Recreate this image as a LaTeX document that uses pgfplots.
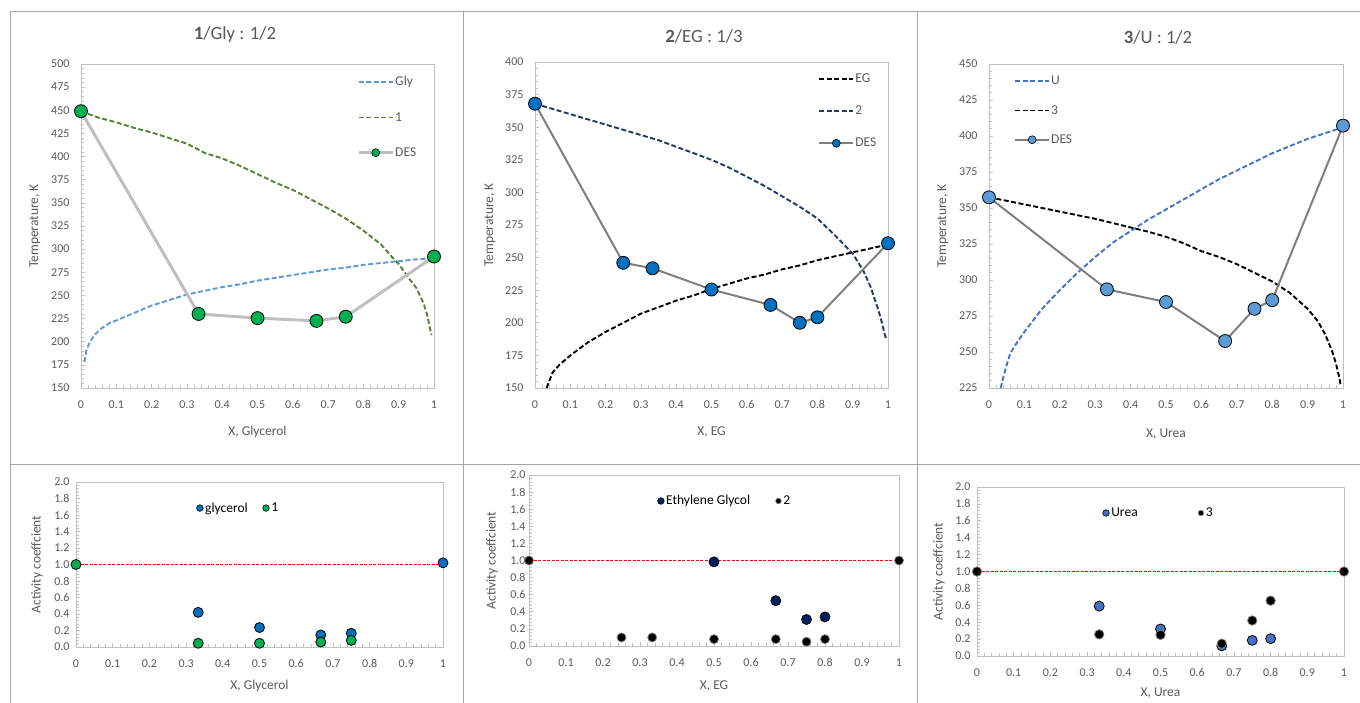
\documentclass[border=0pt]{standalone}
\usepackage{pgfplots}
\pgfplotsset{compat=1.18}
\usepackage{fontspec}
\setmainfont{Carlito}
\definecolor{txtgray}{HTML}{595959}
\definecolor{axgray}{HTML}{BFBFBF}
\definecolor{bordergray}{HTML}{A6A6A6}
\definecolor{glyblue}{HTML}{5B9BD5}
\definecolor{olivegreen}{HTML}{548235}
\definecolor{desgreen}{HTML}{00B050}
\definecolor{desgrayA}{HTML}{BFBFBF}
\definecolor{desgrayB}{HTML}{7F7F7F}
\definecolor{blueB}{HTML}{0070C0}
\definecolor{navyA}{HTML}{1F3864}
\definecolor{navyB}{HTML}{002060}
\definecolor{ublue}{HTML}{4472C4}
\definecolor{ubluelt}{HTML}{5B9BD5}
\definecolor{refred}{HTML}{FF0000}
\newcommand{\tickfont}{\fontsize{12bp}{14bp}\selectfont}
\newcommand{\labfont}{\fontsize{13.5bp}{16bp}\selectfont}
\newcommand{\legfont}{\fontsize{13.5bp}{16bp}\selectfont}
\pgfplotsset{
  base/.style={scale only axis, anchor=south west, clip=false,
    axis line style={draw=axgray, line width=0.8bp},
    tick style={draw=axgray, line width=0.6bp},
    tick pos=left, tick align=inside,
    major tick length=4bp, minor tick length=3bp,
    minor x tick num=4, minor y tick num=4,
    ticklabel style={font=\tickfont, text=txtgray},
    /pgf/number format/assume math mode=true,
    label style={font=\labfont, text=txtgray},
    xmin=0, xmax=1,
    xtick={0,0.1,0.2,0.3,0.4,0.5,0.6,0.7,0.8,0.9,1},
    xticklabel style={yshift=-9bp},
    legend cell align=left},
  toppanel/.style={base, yticklabel style={xshift=-8bp}, ylabel={Temperature, K},
    legend style={draw=none, fill=none, font=\legfont, text=txtgray, inner sep=0pt, nodes={inner sep=1bp}},
    legend image code/.code={\draw[mark repeat=2, mark phase=2, ##1] plot coordinates {(0bp,0bp) (17bp,0bp) (34bp,0bp)};}},
  botpanel/.style={base, ymin=0, ymax=2, ytick={0,0.2,0.4,0.6,0.8,1.0,1.2,1.4,1.6,1.8,2.0},
    yticklabel style={/pgf/number format/.cd, fixed, fixed zerofill, precision=1, /tikz/.cd},
    ylabel={Activity coeffcient}, legend columns=2,
    legend style={draw=none, fill=none, font=\legfont, text=black, inner sep=0pt, nodes={inner sep=2bp}}},
  dotlegend/.style={legend image code/.code={\draw[##1] plot coordinates {(0bp,0bp)};}},
  curve/.style={line width=1.9bp, dash pattern=on 5bp off 2.5bp, mark=none},
  redline/.style={draw=refred, line width=1.4bp, dash pattern=on 3bp off 1.5bp, mark=none, forget plot},
}
\begin{document}
\begin{tikzpicture}
\useasboundingbox (0,0) rectangle (1360bp,703bp);
\draw[bordergray, line width=1bp] (10bp,0bp) -- (10bp,691bp) -- (1360bp,691bp);
\draw[bordergray, line width=1bp] (463bp,0bp) -- (463bp,691bp);
\draw[bordergray, line width=1bp] (917bp,0bp) -- (917bp,691bp);
\draw[bordergray, line width=1bp] (10bp,238bp) -- (1360bp,238bp);
\node[font=\fontsize{18.7bp}{22bp}\selectfont, text=txtgray] at (235bp,668bp) {\textbf{1}/Gly : 1/2};
\node[font=\fontsize{18.7bp}{22bp}\selectfont, text=txtgray] at (704bp,667bp) {\textbf{2}/EG : 1/3};
\node[font=\fontsize{18.7bp}{22bp}\selectfont, text=txtgray] at (1158bp,666bp) {\textbf{3}/U : 1/2};

% ---------- Panel 1 ----------
\begin{axis}[toppanel, at={(81bp,315bp)}, width=353bp, height=324bp,
  ymin=150, ymax=500, ytick={150,175,...,500},
  xlabel={X, Glycerol},
  xlabel style={at={(axis description cs:0.5,-0.1358)}, anchor=center},
  ylabel style={at={(axis description cs:-0.1303,0.5)}, anchor=center},
  legend style={at={(0.782,0.965)}, anchor=north west, row sep=23bp}]
\addplot[glyblue, curve] coordinates {(0.01,178) (0.015,190) (0.025,200) (0.04,208) (0.06,215) (0.08,220) (0.1,223) (0.15,231) (0.2,239) (0.25,245) (0.3,251) (0.35,255) (0.4,259) (0.45,262) (0.5,266) (0.55,269) (0.6,272) (0.65,275) (0.7,278) (0.75,280) (0.8,283) (0.85,285) (0.9,287) (0.95,289) (1.0,290)};
\addlegendentry{Gly}
\addplot[olivegreen, curve] coordinates {(0,449) (0.05,442) (0.1,437) (0.15,431) (0.2,426) (0.25,420) (0.3,414) (0.35,404) (0.4,398) (0.45,390) (0.5,381) (0.55,372) (0.6,364) (0.65,354) (0.7,344) (0.75,333) (0.8,320) (0.85,305) (0.88,292) (0.9,284) (0.93,268) (0.95,258) (0.97,242) (0.98,230) (0.99,212) (0.993,207)};
\addlegendentry{1}
\addlegendimage{desgrayA, line width=3bp, mark=*, mark size=4bp, mark options={fill=desgreen, draw=black, line width=0.6bp}}
\addlegendentry{DES}
\addplot[desgrayA, line width=3bp, mark=*, mark size=6.5bp, mark options={fill=desgreen, draw=black, line width=0.8bp}, forget plot] coordinates {(0,449) (0.333,230) (0.5,225.5) (0.667,222.5) (0.75,227) (1,292)};
\end{axis}

% ---------- Panel 2 ----------
\begin{axis}[toppanel, at={(535bp,315bp)}, width=353bp, height=326bp,
  ymin=150, ymax=400, ytick={150,175,...,400},
  xlabel={X, EG},
  xlabel style={at={(axis description cs:0.5,-0.135)}, anchor=center},
  ylabel style={at={(axis description cs:-0.1275,0.5)}, anchor=center},
  legend style={at={(0.802,0.968)}, anchor=north west, row sep=20bp}]
\addplot[black, curve] coordinates {(0.033,150) (0.04,155) (0.05,162) (0.07,168) (0.1,175) (0.15,185) (0.2,193) (0.25,200) (0.3,207) (0.35,212) (0.4,217) (0.45,221) (0.5,226) (0.55,230) (0.6,234) (0.65,237) (0.7,241) (0.75,244) (0.8,248) (0.85,251) (0.9,254) (0.95,257) (1.0,260)};
\addlegendentry{EG}
\addplot[navyA, curve] coordinates {(0,368) (0.05,364) (0.1,360) (0.15,356) (0.2,352) (0.25,348) (0.3,344) (0.35,340) (0.4,335) (0.45,330) (0.5,325) (0.55,319) (0.6,312) (0.65,305) (0.7,297) (0.75,289) (0.8,280) (0.85,267) (0.9,253) (0.93,240) (0.95,228) (0.97,212) (0.98,203) (0.99,192) (0.995,187)};
\addlegendentry{2}
\addlegendimage{desgrayB, line width=2bp, mark=*, mark size=4bp, mark options={fill=blueB, draw=black, line width=0.6bp}}
\addlegendentry{DES}
\addplot[desgrayB, line width=2bp, mark=*, mark size=6.5bp, mark options={fill=blueB, draw=black, line width=0.8bp}, forget plot] coordinates {(0,368) (0.25,246) (0.333,241.8) (0.5,225.5) (0.667,213.7) (0.75,200) (0.8,204.2) (1,261)};
\end{axis}

% ---------- Panel 3 ----------
\begin{axis}[toppanel, at={(989bp,315bp)}, width=354bp, height=324bp,
  ymin=225, ymax=450, ytick={225,250,...,450},
  xlabel={X, Urea},
  xlabel style={at={(axis description cs:0.5,-0.142)}, anchor=center},
  ylabel style={at={(axis description cs:-0.130,0.5)}, anchor=center},
  legend style={at={(0.0706,0.966)}, anchor=north west, row sep=17bp}]
\addplot[ublue, curve] coordinates {(0.033,225) (0.04,232) (0.05,241) (0.06,249) (0.08,257) (0.1,264) (0.15,280) (0.2,293) (0.25,305) (0.3,316) (0.35,326) (0.4,334) (0.45,342) (0.5,349) (0.55,356) (0.6,363) (0.65,370) (0.7,376) (0.75,382) (0.8,388) (0.85,393) (0.9,398) (0.95,402) (1,406)};
\addlegendentry{U}
\addplot[black, curve] coordinates {(0,357.4) (0.05,355) (0.1,352.5) (0.15,350) (0.2,347.5) (0.25,345) (0.3,342.5) (0.35,339.5) (0.4,336.5) (0.45,333.5) (0.5,330) (0.55,325.5) (0.6,320) (0.65,316) (0.7,311) (0.75,305) (0.8,299) (0.85,291) (0.9,280) (0.93,271) (0.95,262) (0.97,250) (0.98,242) (0.99,232) (0.993,227)};
\addlegendentry{3}
\addlegendimage{desgrayB, line width=2bp, mark=*, mark size=4bp, mark options={fill=ubluelt, draw=black, line width=0.6bp}}
\addlegendentry{DES}
\addplot[desgrayB, line width=2bp, mark=*, mark size=6.5bp, mark options={fill=ubluelt, draw=black, line width=0.8bp}, forget plot] coordinates {(0,357.4) (0.333,293.5) (0.5,284.7) (0.667,257.6) (0.75,280) (0.8,286) (1,407.2)};
\end{axis}

% ---------- Panel 4 ----------
\begin{axis}[botpanel, at={(76bp,56bp)}, width=367bp, height=165bp,
  xlabel={X, Glycerol},
  yticklabel style={xshift=-3bp},
  xlabel style={at={(axis description cs:0.5,-0.236)}, anchor=center},
  ylabel style={at={(axis description cs:-0.106,0.5)}, anchor=center},
  legend style={at={(0.328,0.842)}, anchor=west, /tikz/column 2/.style={column sep=13bp}}]
\addplot[redline] coordinates {(0,1) (1,1)};
\addlegendimage{only marks, mark=*, mark size=3.3bp, mark options={fill=blueB, draw=black, line width=0.6bp}, dotlegend}
\addlegendentry{glycerol}
\addlegendimage{only marks, mark=*, mark size=3.3bp, mark options={fill=desgreen, draw=black, line width=0.6bp}, dotlegend}
\addlegendentry{1}
\addplot[only marks, mark=*, mark size=5bp, mark options={fill=blueB, draw=black, line width=0.8bp}, forget plot] coordinates {(0.333,0.42) (0.5,0.236) (0.667,0.146) (0.75,0.167) (1,1.02)};
\addplot[only marks, mark=*, mark size=5bp, mark options={fill=desgreen, draw=black, line width=0.8bp}, forget plot] coordinates {(0,1.0) (0.333,0.045) (0.5,0.045) (0.667,0.06) (0.75,0.08)};
\end{axis}

% ---------- Panel 5 ----------
\begin{axis}[botpanel, at={(529bp,57bp)}, width=370bp, height=171bp,
  xlabel={X, EG},
  xlabel style={at={(axis description cs:0.5,-0.234)}, anchor=center},
  ylabel style={at={(axis description cs:-0.100,0.5)}, anchor=center},
  legend style={at={(0.347,0.848)}, anchor=west, /tikz/column 2/.style={column sep=23.5bp}}]
\addplot[redline] coordinates {(0,1) (1,1)};
\addlegendimage{only marks, mark=*, mark size=3.3bp, mark options={fill=navyB, draw=black, line width=0.6bp}, dotlegend}
\addlegendentry{Ethylene Glycol}
\addlegendimage{only marks, mark=*, mark size=2.8bp, mark options={fill=black, draw=gray, line width=0.6bp}, dotlegend}
\addlegendentry{2}
\addplot[only marks, mark=*, mark size=5bp, mark options={fill=navyB, draw=black, line width=0.8bp}, forget plot] coordinates {(0.5,0.984) (0.667,0.53) (0.75,0.31) (0.8,0.34)};
\addplot[only marks, mark=*, mark size=4.5bp, mark options={fill=black, draw=gray, line width=0.8bp}, forget plot] coordinates {(0,1) (0.25,0.10) (0.333,0.10) (0.5,0.08) (0.667,0.08) (0.75,0.05) (0.8,0.08) (1,1)};
\end{axis}

% ---------- Panel 6 ----------
\begin{axis}[botpanel, at={(977bp,47bp)}, width=367bp, height=169bp,
  xlabel={X, Urea},
  yticklabel style={xshift=-3bp},
  xlabel style={at={(axis description cs:0.5,-0.219)}, anchor=center},
  ylabel style={at={(axis description cs:-0.1035,0.5)}, anchor=center},
  legend style={at={(0.342,0.846)}, anchor=west, /tikz/column 2/.style={column sep=58.5bp}}]
\addplot[redline] coordinates {(0,1) (1,1)};
\addlegendimage{only marks, mark=*, mark size=3.3bp, mark options={fill=ublue, draw=black, line width=0.6bp}, dotlegend}
\addlegendentry{Urea}
\addlegendimage{only marks, mark=*, mark size=2.8bp, mark options={fill=black, draw=gray, line width=0.6bp}, dotlegend}
\addlegendentry{3}
\addplot[only marks, mark=*, mark size=5bp, mark options={fill=ublue, draw=black, line width=0.8bp}, forget plot] coordinates {(0.333,0.59) (0.5,0.32) (0.667,0.12) (0.75,0.185) (0.8,0.205)};
\addplot[only marks, mark=*, mark size=4.7bp, mark options={fill=black, draw=gray, line width=0.8bp}, forget plot] coordinates {(0,1) (0.333,0.256) (0.5,0.25) (0.667,0.146) (0.75,0.42) (0.8,0.655) (1,1)};
\end{axis}
\end{tikzpicture}
\end{document}
